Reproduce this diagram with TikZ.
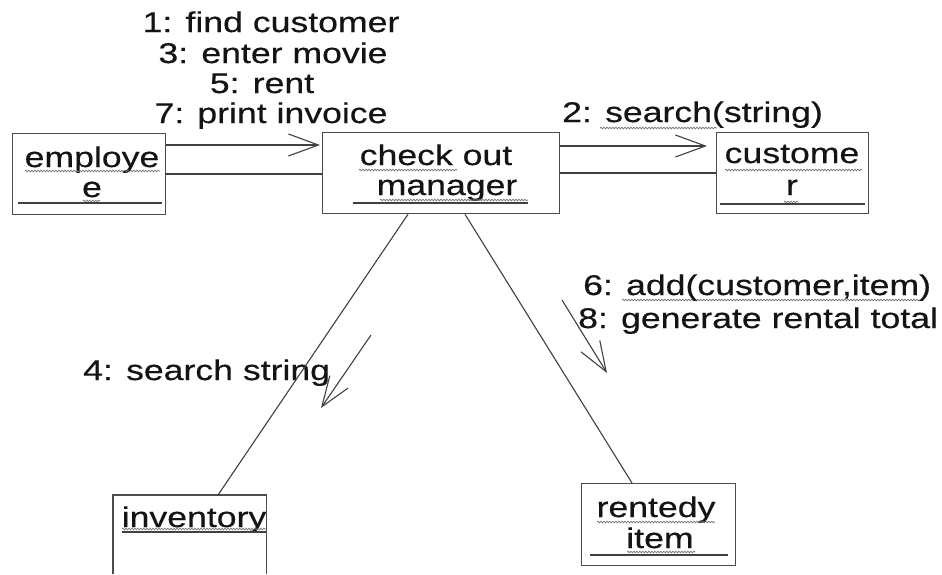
\documentclass[tikz,border=0pt]{standalone}
\usepackage{fontspec}
\setmainfont{Liberation Sans}[FakeStretch=1.25,FakeBold=0.4]
\usetikzlibrary{arrows.meta,decorations.pathmorphing}
\begin{document}
\begin{tikzpicture}[x=1pt,y=-1pt,
  objbox/.style={draw=black!70, line width=1.3pt, inner sep=0pt, anchor=north west},
  boxline/.style={draw=black!70, line width=1.3pt},
  txt/.style={font=\fontsize{28.5}{31}\selectfont, text=black!92, inner sep=0pt},
  msg/.style={draw=black!75, line width=1.1pt, -{Straight Barb[length=30pt,width=22pt]}},
  link/.style={draw=black!75, line width=1.1pt},
  uline/.style={draw=black!75, line width=1.1pt},
  squig/.style={draw=black!55, line width=0.7pt, decorate, decoration={snake, segment length=3pt, amplitude=0.8pt}}]

\fill[white] (0,0) rectangle (942,574);
\useasboundingbox (0,0) rectangle (942,574);

% boxes
\node[objbox, minimum width=153pt, minimum height=81pt] (emp) at (12,133) {};
\node[objbox, minimum width=237pt, minimum height=81pt] (mgr) at (322,132) {};
\node[objbox, minimum width=152pt, minimum height=81pt] (cust) at (716,132) {};
\node[inner sep=0pt, anchor=north west, minimum width=153pt, minimum height=79pt] (inv) at (113,495) {};
\draw[boxline] (inv.south west) -- (inv.north west) -- (inv.north east) -- (inv.south east);
\node[objbox, minimum width=154pt, minimum height=82pt] (rent) at (581,483) {};

% box texts
\node[txt, anchor=base] (empA) at (92,167) {employe};
\node[txt, anchor=base] (empB) at (92,197) {e};
\node[txt, anchor=base] (mgrA) at (436,165) {check out};
\node[txt, anchor=base] (mgrB) at (447,195) {manager};
\node[txt, anchor=base] (custA) at (792,163) {custome};
\node[txt, anchor=base] (custB) at (792,195) {r};
\node[txt, anchor=base] (invA) at (194,527) {inventory};
\node[txt, anchor=base] (rentA) at (656,517) {rentedy};
\node[txt, anchor=base] (rentB) at (660,548) {item};

% object-name underlines
\draw[uline] (18,203) -- (162,203);
\draw[uline] (353,203) -- (528,203);
\draw[uline] (720,204) -- (865,204);
\draw[uline] (122,532) -- (266,532);
\draw[uline] (590,555) -- (728,555);

% spell-check squiggles
\draw[squig] (25,171) -- (160,171);
\draw[squig] (83,201) -- (100,201);
\draw[squig] (359,170) -- (457,170);
\draw[squig] (380,200) -- (528,200);
\draw[squig] (725,170) -- (862,170);
\draw[squig] (784,202) -- (798,202);
\draw[squig] (600,128) -- (717,128);
\draw[squig] (122,529) -- (266,529);
\draw[squig] (597,522) -- (715,522);
\draw[squig] (627,552) -- (695,552);
\draw[squig] (622,300) -- (920,300);

% message labels
\node[txt, anchor=base] (t1) at (271,32) {1: find customer};
\node[txt, anchor=base] (t3) at (273,63) {3: enter movie};
\node[txt, anchor=base] (t5) at (262,93) {5: rent};
\node[txt, anchor=base] (t7) at (271,123) {7: print invoice};
\node[txt, anchor=base west] (t2) at (562,122) {2: search(string)};
\node[txt, anchor=base west] (t6) at (583,295) {6: add(customer,item)};
\node[txt, anchor=base west] (t8) at (578,328) {8: generate rental total};
\node[txt, anchor=base west] (t4) at (83,380) {4: search string};

% links
\draw[link] (emp.east |- 0,174) -- (mgr.west |- 0,174);
\draw[link] (mgr.east |- 0,173) -- (cust.west |- 0,173);
\draw[link] ([xshift=86pt]mgr.south west) -- ([xshift=105pt]inv.north west);
\draw[link] ([xshift=143pt]mgr.south west) -- ([xshift=51pt]rent.north west);

% message arrows
\draw[msg] (emp.east |- 0,145) -- ([xshift=-2pt]mgr.west |- 0,145);
\draw[msg] (mgr.east |- 0,146) -- ([xshift=-9pt]cust.west |- 0,146);
\coordinate (m4a) at (371,335);
\coordinate (m4b) at (321,408);
\draw[msg] (m4a) -- (m4b);
\coordinate (m6a) at (562,300);
\coordinate (m6b) at (607,373);
\draw[msg] (m6a) -- (m6b);
\end{tikzpicture}
\end{document}
